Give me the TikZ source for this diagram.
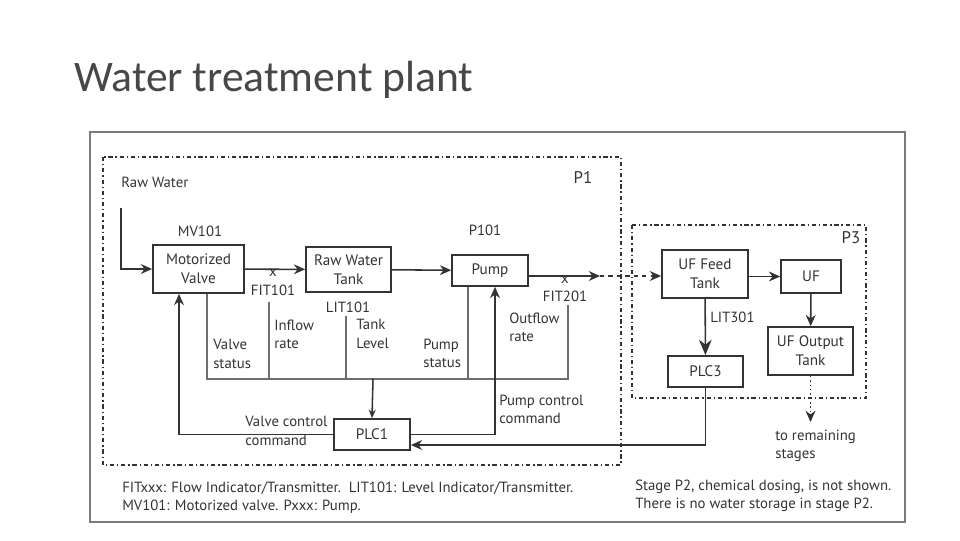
\documentclass[tikz,border=0pt]{standalone}
\usepackage{fontspec}
\setmainfont{PT Sans}
\newfontfamily\titlefont{Carlito}
\usetikzlibrary{arrows.meta}
\definecolor{ink}{HTML}{333333}
\definecolor{wire}{HTML}{6E6E6E}
\definecolor{frame}{HTML}{7A7A7A}
\tikzset{
	boxstyle/.style={rectangle,draw=ink,line width=1.2pt,fill=white,text=ink,align=center,font=\fontsize{10.8}{13.5}\selectfont,inner sep=0pt},
	labelstyle/.style={text=ink,font=\fontsize{10.5}{13}\selectfont,align=left,inner sep=0pt},
	flow/.style={draw=ink,line width=1.1pt,-{Stealth[length=8pt,width=7pt]}},
	wirestyle/.style={draw=wire,line width=1.3pt},
	stagestyle/.style={draw=ink,line width=1pt,dash pattern=on 3pt off 2pt on 1pt off 2pt}
}
\begin{document}
\begin{tikzpicture}[x=0.025cm,y=-0.025cm]
	\useasboundingbox (0,0) rectangle (960,540);
	\node[anchor=west,text=ink!90,font=\titlefont\fontsize{31}{36}\selectfont,inner sep=0pt] (title) at (74,80) {Water treatment plant};
	\draw[frame,line width=2pt] (90,132) rectangle (905,522);
	\draw[stagestyle] (103,157) rectangle (621,465);
	\draw[stagestyle] (632,225) rectangle (866,398);
	\node[labelstyle,font=\fontsize{12}{14}\selectfont] (p1) at (583,177) {P1};
	\node[labelstyle,font=\fontsize{12}{14}\selectfont] (p3) at (851,238) {P3};
	% process blocks
	\node[boxstyle,minimum width=2.275cm,minimum height=1.2cm] (mv) at (198.5,269) {Motorized\\Valve};
	\node[boxstyle,minimum width=2.125cm,minimum height=1.125cm] (rwt) at (348.5,269.5) {Raw Water\\Tank};
	\node[boxstyle,minimum width=1.9cm,minimum height=0.775cm] (pump) at (490,270.5) {Pump};
	\node[boxstyle,minimum width=2.15cm,minimum height=1.2cm] (uffeed) at (705,274) {UF Feed\\Tank};
	\node[boxstyle,minimum width=1.5cm,minimum height=0.825cm] (uf) at (811,276.5) {UF};
	\node[boxstyle,minimum width=2.125cm,minimum height=1.2cm] (ufout) at (810.5,351) {UF Output\\Tank};
	\node[boxstyle,minimum width=1.875cm,minimum height=0.775cm] (plc3) at (705.5,371.5) {PLC3};
	\node[boxstyle,minimum width=1.9cm,minimum height=0.775cm] (plc1) at (372,434.5) {PLC1};
	% tags
	\node[labelstyle,anchor=west] (raw) at (121,182) {Raw Water};
	\node[labelstyle] (mv101) at (200,231) {MV101};
	\node[labelstyle] (p101) at (485,230) {P101};
	\node[labelstyle] (fit101) at (273,290) {FIT101};
	\node[labelstyle] (lit101) at (348,307) {LIT101};
	\node[labelstyle] (fit201) at (565,296) {FIT201};
	\node[labelstyle,anchor=west] (lit301) at (710,317) {LIT301};
	\node[labelstyle] (x1) at (273,272.5) {x};
	\node[labelstyle] (x2) at (565,279.5) {x};
	% signal texts
	\node[labelstyle,anchor=west] (vstat) at (213,354) {Valve\\status};
	\node[labelstyle,anchor=west] (inflow) at (274,334) {Inflow\\rate};
	\node[labelstyle,anchor=west] (level) at (356,334) {Tank\\Level};
	\node[labelstyle,anchor=west] (pstat) at (423,353) {Pump\\status};
	\node[labelstyle,anchor=west] (outflow) at (509,327) {Outflow\\rate};
	\node[labelstyle,anchor=west] (pcmd) at (499,409) {Pump control\\command};
	\node[labelstyle,anchor=west] (vcmd) at (245,431) {Valve control\\command};
	\node[labelstyle,anchor=west] (rest) at (775,446) {to remaining\\stages};
	\node[labelstyle,anchor=west] (note1) at (122,498) {FITxxx: Flow Indicator/Transmitter.\ \ LIT101: Level Indicator/Transmitter.\\MV101: Motorized valve. Pxxx: Pump.};
	\node[labelstyle,anchor=west] (note2) at (635,496) {Stage P2, chemical dosing, is not shown.\\There is no water storage in stage P2.};
	% free ends
	\coordinate (rawin) at (121,208);
	\coordinate (fit201a) at (565,276);
	\coordinate (p1out) at (600,276);
	\coordinate (busl) at (207,379);
	\coordinate (busr) at (568,379);
	\coordinate (outtop) at (568,305);
	\coordinate (intop) at (269,302);
	\coordinate (lvtop) at (346,316);
	\coordinate (pstbus) at (468,379);
	\coordinate (busdown) at (373,379);
	\coordinate (vcc) at (179,434.5);
	\coordinate (pcc) at (495,434.5);
	\coordinate (plc3dn) at (705.5,445);
	\coordinate (restin) at (810.5,422);
	% water flow
	\draw[flow] (rawin) |- (mv.west);
	\draw[flow] (mv) -- (rwt);
	\draw[flow] (rwt) -- (pump);
	\draw[flow] (pump.east |- fit201a) -- (p1out);
	\draw[flow,dashed] (p1out) -- (uffeed.west |- p1out);
	\draw[flow] (uffeed.east |- uf) -- (uf);
	\draw[flow] (uf) -- (ufout);
	\draw[flow,dotted] (ufout) -- (restin);
	% sensor signals
	\draw[wirestyle] (mv.south -| busl) -- (busl) -- (busr) -- (outtop);
	\draw[wirestyle] (intop) -- (intop |- busl);
	\draw[wirestyle] (lvtop) -- (lvtop |- busl);
	\draw[wirestyle] (pstbus |- pump.south) -- (pstbus);
	\draw[flow,-{Stealth[length=6pt,width=5pt]}] (busdown) -- (plc1.north);
	% control
	\draw[flow] (plc1.west) -- (vcc) -- (vcc |- mv.south);
	\draw[flow] (plc1.east) -- (pcc) -- (pcc |- pump.south);
	\draw[flow,-{Stealth[length=11pt,width=9pt]}] (uffeed) -- (plc3);
	\draw[flow] (plc3.south) -- (plc3dn) -- (plc3dn -| plc1.east);
\end{tikzpicture}
\end{document}
